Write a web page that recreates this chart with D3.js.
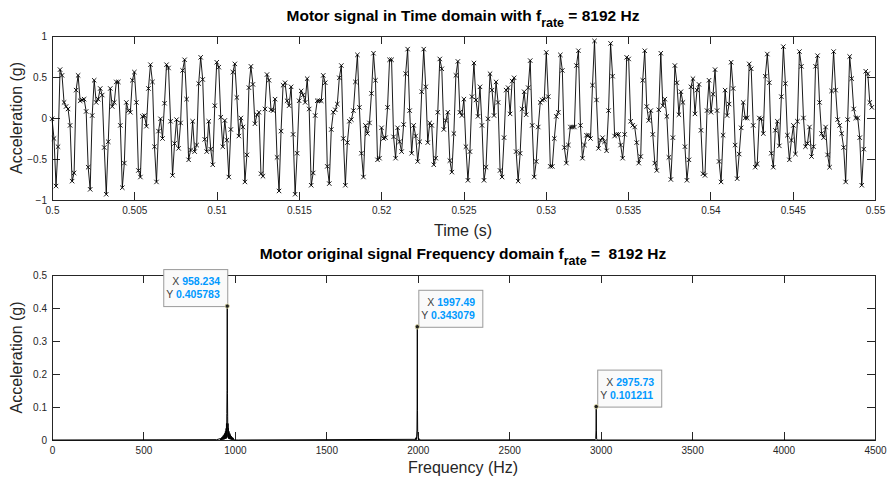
<!DOCTYPE html>
<html lang="en">
  <head>
    <meta charset="UTF-8"/>
    <title>Motor signal</title>
    <script src="https://d3js.org/d3.v7.min.js"></script>
    <style>
        body {
          margin: 0;
          background: #fff;
          font-family: "Liberation Sans", Arial, sans-serif;
        }
        .axis line,
        .axis path {
          stroke: #262626;
          shape-rendering: crispEdges;
        }
        .axis text {
          fill: #262626;
          font-size: 10px;
        }
        .frame {
          fill: none;
          stroke: #262626;
          shape-rendering: crispEdges;
        }
        .title {
          font-weight: bold;
          font-size: 15.5px;
          fill: #000;
          white-space: pre;
        }
        .label {
          font-size: 16px;
          fill: #262626;
        }
        .tip-box {
          fill: #fafafa;
          stroke: #9a9a9a;
        }
        .tip-key {
          font-size: 10.5px;
          fill: #404040;
        }
        .tip-val {
          font-size: 10.5px;
          font-weight: bold;
          fill: #0099ff;
        }
    </style>
  </head>
  <body>
    <script>
        // time domain: samples at 8192 Hz starting at t = 0.5 s
        const fs = 8192
        const tStart = 0.5
        const signal = [
          -0.01,-0.25,-0.83,-0.35,0.59,0.52,0.19,0.14,0.11,-0.09,
          -0.77,-0.67,0.34,0.52,0.21,0.22,0.23,0.08,-0.60,-0.87,
          0.03,0.46,0.19,0.23,0.36,0.28,-0.36,-0.93,-0.29,0.36,
          0.14,0.19,0.44,0.44,-0.09,-0.85,-0.55,0.19,0.09,0.07,
          0.46,0.56,0.19,-0.64,-0.72,0.02,0.03,-0.10,0.36,0.65,
          0.44,-0.35,-0.78,
          -0.16,-0.01,-0.25,0.18,0.65,0.61,-0.04,
          -0.70,-0.31,-0.02,-0.37,-0.06,0.58,0.71,0.23,-0.51,-0.39,
          -0.04,-0.41,-0.33,0.42,0.74,0.47,-0.26,-0.41,-0.04,-0.38,
          -0.57,0.15,0.68,0.62,0.01,-0.35,-0.03,-0.27,-0.72,-0.14,
          0.56,0.66,0.25,-0.22,0.00,-0.11,-0.78,-0.45,0.37,0.63,
          0.41,-0.07,0.04,
          0.07,-0.68,-0.71,0.11,0.53,0.46,0.10,
          0.09,0.23,-0.48,-0.89,-0.16,0.40,0.43,0.21,0.15,0.38,
          -0.20,-0.93,-0.43,0.21,0.33,0.28,0.19,0.48,0.11,-0.82,
          -0.67,0.03,0.21,0.21,0.21,0.52,0.43,-0.59,-0.80,-0.14,
          0.07,0.10,0.17,0.49,0.64,-0.25,-0.82,-0.30,-0.04,-0.02,
          0.09,0.44,0.77,0.13,-0.43,
          -0.72,-0.09,-0.19,-0.06,0.30,0.79,0.46,-0.51,-0.49,-0.12,
          -0.25,-0.24,0.13,0.71,0.71,-0.23,-0.49,-0.12,-0.29,-0.41,
          -0.08,0.54,0.84,0.09,-0.43,-0.09,-0.22,-0.53,-0.29,0.32,
          0.84,0.38,-0.30,-0.06,-0.09,-0.57,-0.49,0.07,0.72,0.60,
          -0.14,-0.03,0.07,-0.52,-0.66,-0.19,0.52,0.69,0.07,0.03,
          0.23,-0.35,-0.76,
          -0.41,0.26,0.67,0.22,0.02,0.38,-0.09,-0.76,-0.60,-0.01,
          0.54,0.34,0.03,0.44,0.19,-0.64,-0.72,-0.24,0.34,0.37,
          0.05,0.45,0.49,-0.41,-0.77,-0.43,0.11,0.32,0.04,0.37,
          0.70,-0.09,-0.72,-0.53,-0.11,0.19,0.22,0.23,0.80,0.26,
          -0.59,-0.59,-0.25,0.02,0.07,0.77,0.58,-0.36,-0.55,
          -0.33,-0.11,-0.11,-0.11,0.64,0.82,-0.09,-0.49,-0.33,-0.21,
          -0.21,-0.25,0.40,0.94,0.22,-0.37,-0.27,-0.24,-0.29,-0.40,
          0.09,0.91,0.51,-0.22,-0.20,-0.20,-0.33,-0.49,-0.20,0.74,
          0.72,-0.04,-0.09,-0.11,-0.30,-0.55,-0.47,0.46,0.82,0.14,
          -0.03,0.09,-0.20,-0.55,-0.64,0.10,0.79,0.15,0.23,0.02,
          -0.48,
          -0.75,-0.24,0.64,0.43,0.04,0.32,0.19,-0.35,-0.76,-0.51,
          0.38,0.48,0.05,0.34,0.41,-0.15,-0.68,-0.70,0.09,0.46,
          0.07,0.29,0.59,0.09,-0.53,-0.78,-0.21,0.34,0.03,0.17,
          0.68,0.36,-0.33,-0.74,-0.44,-0.12,0.19,0.00,0.00,0.66,
          0.60,-0.09,-0.60,-0.56,0.00,-0.01,-0.19,0.51,0.78,0.43,
          -0.43,-0.60,
          -0.15,-0.04,-0.34,0.26,0.87,0.42,-0.21,-0.51,-0.27,-0.09,
          -0.44,-0.04,0.81,0.63,0.00,-0.35,-0.31,-0.11,-0.47,-0.35,
          0.63,0.76,0.19,-0.19,-0.24,-0.11,-0.45,-0.60,0.33,0.81,
          0.34,-0.02,-0.09,-0.19,-0.36,-0.78,-0.02,0.75,0.48,0.11,
          0.00,0.00,-0.24,-0.82,-0.38,0.57,0.54,0.19,0.13
        ]
        const timeTicks = [0.5, 0.505, 0.51, 0.515, 0.52, 0.525, 0.53, 0.535, 0.54, 0.545, 0.55]
        const accTicks = [-1, -0.5, 0, 0.5, 1]

        // frequency domain: spectrum (mostly zero, leakage around the three peaks)
        const specFreq = [
          0, 900, 920, 922, 924, 926, 928, 930, 932, 934, 936, 938, 940, 942, 944, 946, 948, 950,
          952, 953, 954, 955, 956, 957, 958.234, 959.5, 960.5, 961.5, 962.5, 963.5, 965, 966,
          968, 970, 972, 974, 976, 978, 980, 982, 984, 986, 988, 990, 992, 995, 1020,
          1980, 1984, 1986, 1988, 1990, 1992, 1994, 1995.5, 1996.5, 1997.49, 1998.5, 1999.5,
          2001, 2003, 2005, 2007, 2009, 2013,
          2970, 2973, 2974.8, 2975.73, 2976.7, 2978, 2982, 4500
        ]
        const specAmp = [
          0, 0.001, 0.004, 0, 0.006, 0, 0.008, 0.001, 0.010, 0.001, 0.013, 0.002, 0.016, 0.002, 0.020, 0.003, 0.026, 0.004,
          0.035, 0.005, 0.050, 0.008, 0.080, 0.150, 0.405783, 0.140, 0.070, 0.010, 0.050, 0.006, 0.035, 0.004,
          0.026, 0.003, 0.020, 0.002, 0.016, 0.002, 0.012, 0.001, 0.009, 0.001, 0.007, 0, 0.005, 0, 0,
          0.002, 0, 0.004, 0.001, 0.007, 0.001, 0.012, 0.030, 0.100, 0.343079, 0.090, 0.025,
          0.010, 0.001, 0.006, 0.001, 0.003, 0,
          0.001, 0.004, 0.030, 0.101211, 0.030, 0.003, 0, 0
        ]
        const freqTicks = [0, 500, 1000, 1500, 2000, 2500, 3000, 3500, 4000, 4500]
        const ampTicks = [0, 0.1, 0.2, 0.3, 0.4, 0.5]

        // data tips
        const tipX = [958.234, 1997.49, 2975.73]
        const tipY = [0.405783, 0.343079, 0.101211]
        const tipXText = ["958.234", "1997.49", "2975.73"]
        const tipYText = ["0.405783", "0.343079", "0.101211"]
        const tipSide = ["left", "right", "right"]

        const W = 888, H = 483
        const plotLeft = 52, plotRight = 875
        const tickLen = 8

        const svg = d3.select("body").append("svg")
            .attr("width", W)
            .attr("height", H)

        // helper: MATLAB-style box with inward ticks on all four sides
        function drawAxes(g, x, y, xTicks, yTicks, xFmt, yFmt) {
          const [x0, x1] = x.range()
          const [y0, y1] = y.range()   // y0 = bottom, y1 = top
          const h = y0 - y1, w = x1 - x0

          g.append("g")
              .attr("class", "axis")
              .attr("transform", `translate(0, ${y0})`)
              .call(d3.axisBottom(x).tickValues(xTicks).tickFormat(xFmt).tickSizeInner(-tickLen).tickSizeOuter(0))
              .call(a => a.selectAll("text").attr("y", 7))
          g.append("g")
              .attr("class", "axis")
              .attr("transform", `translate(0, ${y1})`)
              .call(d3.axisTop(x).tickValues(xTicks).tickFormat("").tickSizeInner(-tickLen).tickSizeOuter(0))
          g.append("g")
              .attr("class", "axis")
              .attr("transform", `translate(${x0}, 0)`)
              .call(d3.axisLeft(y).tickValues(yTicks).tickFormat(yFmt).tickSizeInner(-tickLen).tickSizeOuter(0))
              .call(a => a.selectAll("text").attr("x", -5))
          g.append("g")
              .attr("class", "axis")
              .attr("transform", `translate(${x1}, 0)`)
              .call(d3.axisRight(y).tickValues(yTicks).tickFormat("").tickSizeInner(-tickLen).tickSizeOuter(0))
          g.selectAll(".axis .domain").remove()

          g.append("rect")
              .attr("class", "frame")
              .attr("x", x0 + 0.5)
              .attr("y", y1 + 0.5)
              .attr("width", w)
              .attr("height", h)
        }

        function drawTitle(text1, text2, cx, y) {
          const t = svg.append("text")
              .attr("class", "title")
              .attr("x", cx)
              .attr("y", y)
              .attr("text-anchor", "middle")
          t.append("tspan").text(text1)
          t.append("tspan").attr("font-size", 12.5).attr("dy", 6).text("rate")
          t.append("tspan").attr("dy", -6).text(text2)
        }

        // ---------- top: time domain ----------
        const xTime = d3.scaleLinear().domain([0.5, 0.55]).range([plotLeft, plotRight])
        const yTime = d3.scaleLinear().domain([-1, 1]).range([200, 36])

        const topG = svg.append("g")
        drawAxes(topG, xTime, yTime, timeTicks, accTicks, d3.format("~g"), d3.format("~g"))

        const pts = signal.map((v, i) => [tStart + i / fs, v])

        topG.append("path")
            .datum(pts)
            .attr("fill", "none")
            .attr("stroke", "#000")
            .attr("stroke-width", 0.9)
            .attr("d", d3.line().x(d => xTime(d[0])).y(d => yTime(d[1])))

        const mk = 2.2
        topG.append("g")
            .selectAll("path")
            .data(pts)
            .join("path")
            .attr("transform", d => `translate(${xTime(d[0])}, ${yTime(d[1])})`)
            .attr("d", `M${-mk},${-mk}L${mk},${mk}M${-mk},${mk}L${mk},${-mk}`)
            .attr("stroke", "#000")
            .attr("stroke-width", 0.9)

        drawTitle("Motor signal in Time domain with f", " = 8192 Hz", 463, 21)

        svg.append("text")
            .attr("class", "label")
            .attr("x", 463)
            .attr("y", 236)
            .attr("text-anchor", "middle")
            .text("Time (s)")

        svg.append("text")
            .attr("class", "label")
            .attr("transform", `translate(22, ${(36 + 200) / 2}) rotate(-90)`)
            .attr("text-anchor", "middle")
            .text("Acceleration (g)")

        // ---------- bottom: frequency domain ----------
        const xFreq = d3.scaleLinear().domain([0, 4500]).range([plotLeft, plotRight])
        const yFreq = d3.scaleLinear().domain([0, 0.5]).range([440, 275])

        const bottomG = svg.append("g")
        drawAxes(bottomG, xFreq, yFreq, freqTicks, ampTicks, d3.format("d"), d3.format("~g"))

        bottomG.append("path")
            .datum(specFreq.map((f, i) => [f, specAmp[i]]))
            .attr("fill", "none")
            .attr("stroke", "#000")
            .attr("stroke-width", 1)
            .attr("d", d3.line().x(d => xFreq(d[0])).y(d => yFreq(d[1])))

        drawTitle("Motor original signal Frequency domain f", " =  8192 Hz", 463, 259)

        svg.append("text")
            .attr("class", "label")
            .attr("x", 463)
            .attr("y", 473)
            .attr("text-anchor", "middle")
            .text("Frequency (Hz)")

        svg.append("text")
            .attr("class", "label")
            .attr("transform", `translate(22, ${(275 + 440) / 2}) rotate(-90)`)
            .attr("text-anchor", "middle")
            .text("Acceleration (g)")

        // data tips
        const boxW = 64, boxH = 37
        tipX.forEach((fx, i) => {
          const px = xFreq(fx), py = yFreq(tipY[i])
          const bx = tipSide[i] === "left" ? px - boxW : px + 1
          const by = py - boxH
          const tip = bottomG.append("g")
          tip.append("rect")
              .attr("class", "tip-box")
              .attr("x", bx + 0.5)
              .attr("y", by + 0.5)
              .attr("width", boxW)
              .attr("height", boxH)
          const t1 = tip.append("text").attr("x", bx + 9).attr("y", by + 16)
          t1.append("tspan").attr("class", "tip-key").text("X ")
          t1.append("tspan").attr("class", "tip-val").text(tipXText[i])
          const t2 = tip.append("text").attr("x", bx + 3).attr("y", by + 29)
          t2.append("tspan").attr("class", "tip-key").text("Y ")
          t2.append("tspan").attr("class", "tip-val").text(tipYText[i])
          tip.append("circle")
              .attr("cx", px)
              .attr("cy", py)
              .attr("r", 2.2)
              .attr("fill", "#222")
              .attr("stroke", "#e8e4b0")
              .attr("stroke-width", 0.8)
        })
    </script>
  </body>
</html>
